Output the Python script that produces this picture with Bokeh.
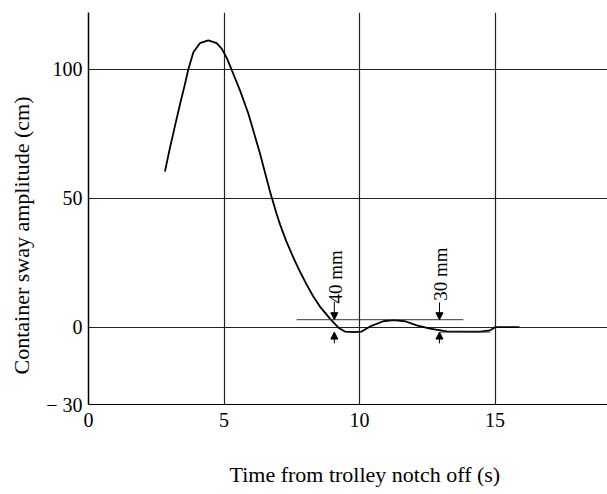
import math
from bokeh.plotting import figure
from bokeh.models import FixedTicker, Arrow, NormalHead, Range1d, Title
from bokeh.embed import file_html
from bokeh.resources import INLINE
from bokeh.core.properties import value

# ---- data ----
time_s = [2.82, 3.01, 3.20, 3.38, 3.54, 3.68, 3.87, 4.11, 4.42, 4.73, 4.92,
          5.10, 5.28, 5.59, 5.90, 6.33, 6.70, 6.94, 7.07, 7.30, 7.56, 7.80,
          8.05, 8.30, 8.54, 8.91, 9.22, 9.46, 9.80, 10.08, 10.39, 10.88,
          11.25, 11.68, 12.11, 12.60, 13.22, 14.45, 14.82, 15.0, 15.9]
sway_cm = [60.4, 69.8, 78.5, 86.7, 93.5, 99.9, 106.7, 110.2, 111.3, 110.2, 108.0,
           104.5, 99.9, 91.9, 82.8, 67.3, 52.5, 44.0, 39.8, 33.3, 27.0, 21.6,
           16.5, 11.8, 8.0, 3.3, -0.2, -1.7, -1.9, -1.7, 0.3, 2.3,
           2.7, 2.3, 0.7, -0.6, -1.6, -1.7, -1.2, 0.0, 0.0]

x_ticks = [0, 5, 10, 15]
y_ticks = [-30, 0, 50, 100]
y_tick_labels = {-30: "\u2212 30"}

# reference lines of the residual sway band
upper_band_x = [7.68, 13.83]
upper_band_y = [2.9, 2.9]
lower_band_x = [12.97, 14.82]
lower_band_y = [-1.9, -1.9]

# dimension arrows
arrow_x = [9.07, 12.95]
arrow_top_from = [9.9, 9.6]
arrow_top_to = [2.9, 2.9]
arrow_bot_from = [-6.3, -6.3]
arrow_bot_to = [-1.9, -1.9]
arrow_texts = ["40 mm", "30 mm"]
arrow_text_x = [9.10, 12.97]
arrow_text_y = [19.5, 20.6]

x_label = "Time from trolley notch off (s)"
y_label = "Container sway amplitude (cm)"

FONT = "Liberation Serif"

p = figure(frame_width=519, frame_height=392,
           x_range=Range1d(0, 19.15), y_range=Range1d(-30, 122.1),
           output_backend="svg", toolbar_location=None,
           min_border_left=88, min_border_right=0,
           min_border_top=12, min_border_bottom=86)
p.outline_line_color = None
p.background_fill_color = "white"
p.border_fill_color = "white"

p.xaxis.ticker = FixedTicker(ticks=x_ticks)
p.yaxis.ticker = FixedTicker(ticks=y_ticks)
p.yaxis.major_label_overrides = y_tick_labels
for ax in (p.xaxis, p.yaxis):
    ax.axis_line_color = "black"
    ax.major_tick_in = 0
    ax.major_tick_out = 0
    ax.minor_tick_line_color = None
    ax.major_label_text_font = FONT
    ax.major_label_text_font_size = "20px"
    ax.major_label_text_color = "black"
p.yaxis.axis_line_width = 1.5
p.xaxis.axis_line_width = 1.2
p.yaxis.major_label_standoff = 6
p.xaxis.major_label_standoff = 8
# blank spacer label keeps the x title clear of the tick labels
p.xaxis.axis_label = " "
p.xaxis.axis_label_text_font_size = "1px"
p.xaxis.axis_label_standoff = 27

p.xgrid.ticker = FixedTicker(ticks=[5, 10, 15])
p.ygrid.ticker = FixedTicker(ticks=[0, 50, 100])
p.xgrid.grid_line_color = "#222222"
p.ygrid.grid_line_color = "#222222"
p.xgrid.grid_line_width = 1.2
p.ygrid.grid_line_width = 1.2

# main curve
p.line(time_s, sway_cm, line_color="black", line_width=1.8)

# band lines
p.line(upper_band_x, upper_band_y, line_color="#333333", line_width=1)
p.line(lower_band_x, lower_band_y, line_color="#333333", line_width=1)

# arrows
for i in range(len(arrow_x)):
    p.add_layout(Arrow(x_start=arrow_x[i], y_start=arrow_top_from[i],
                       x_end=arrow_x[i], y_end=arrow_top_to[i],
                       line_color="black", line_width=1,
                       end=NormalHead(size=7, fill_color="black", line_color="black")))
    p.add_layout(Arrow(x_start=arrow_x[i], y_start=arrow_bot_from[i],
                       x_end=arrow_x[i], y_end=arrow_bot_to[i],
                       line_color="black", line_width=1,
                       end=NormalHead(size=7, fill_color="black", line_color="black")))

p.text(x=arrow_text_x, y=arrow_text_y, text=arrow_texts, angle=math.pi / 2,
       text_font=value(FONT), text_font_size="19px", text_color="black",
       text_align="center", text_baseline="middle")

# axis titles
p.add_layout(Title(text=y_label, align="left", offset=30, vertical_align="top",
                   standoff=16, text_font=FONT, text_font_size="22px",
                   text_font_style="normal", text_color="black"), "left")
p.add_layout(Title(text=x_label, align="left", offset=141, vertical_align="top",
                   standoff=2, text_font=FONT, text_font_size="22px",
                   text_font_style="normal", text_color="black"), "below")

open("out.html", "w").write(file_html(p, INLINE))
